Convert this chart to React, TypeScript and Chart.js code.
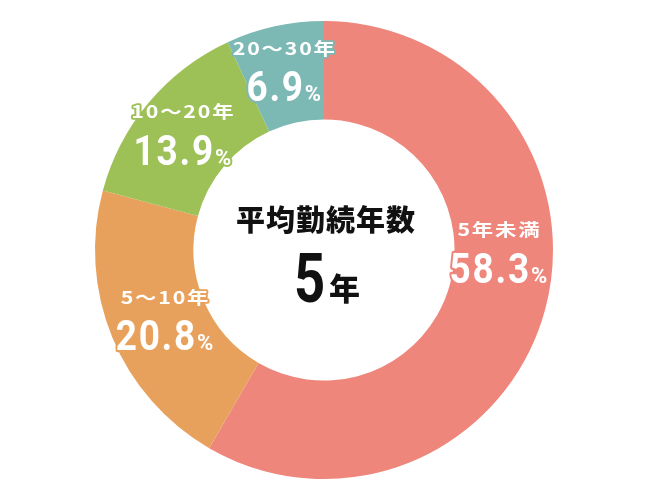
import React, { useEffect, useRef } from "react";
import { Chart, registerables } from "chart.js";

Chart.register(...registerables);

const categories = ["5年未満", "5～10年", "10～20年", "20～30年"];
const values = [58.3, 20.8, 13.9, 6.9];
const colors = ["#EE867C", "#E8A15C", "#9DC157", "#7DB9B4"];
const centerTitle = "平均勤続年数";
const centerValue = "5";
const centerUnit = "年";

// label placement nudges (angle in degrees, radius as fraction of ring middle)
const labelAngleNudge = [-15.5, 0, 0, 0];
const labelRadiusScale = [0.97, 0.96, 1.03, 1.04];

const labelPlugin = {
  id: "ringLabels",
  afterDatasetsDraw(chart: any) {
    const ctx = chart.ctx;
    const meta = chart.getDatasetMeta(0);
    meta.data.forEach((arc: any, i: number) => {
      const p = arc.getProps(["x", "y", "startAngle", "endAngle", "innerRadius", "outerRadius"], true);
      const mid = (p.startAngle + p.endAngle) / 2 + (labelAngleNudge[i] * Math.PI) / 180;
      const r = ((p.innerRadius + p.outerRadius) / 2) * labelRadiusScale[i];
      const cx = p.x + Math.cos(mid) * r;
      const cy = p.y + Math.sin(mid) * r;
      ctx.save();
      ctx.lineJoin = "round";
      ctx.strokeStyle = colors[i];
      ctx.fillStyle = "#ffffff";
      // category label (wide lettering)
      const lx = 1.22;
      ctx.save();
      ctx.translate(cx + 1, cy - 19);
      ctx.scale(lx, 1);
      ctx.textAlign = "center";
      ctx.textBaseline = "middle";
      ctx.font = "bold 17.5px 'Noto Sans CJK JP'";
      (ctx as any).letterSpacing = "1.5px";
      ctx.lineWidth = 4 / lx;
      ctx.strokeText(categories[i], 0, 0);
      ctx.fillText(categories[i], 0, 0);
      ctx.restore();
      // value
      const num = values[i].toFixed(1);
      const sx = 0.88;
      ctx.font = "bold 42px Roboto";
      (ctx as any).letterSpacing = "2px";
      const numW = ctx.measureText(num).width * sx;
      ctx.font = "bold 22px Roboto";
      (ctx as any).letterSpacing = "0px";
      const pctW = ctx.measureText("%").width;
      const total = numW + pctW;
      const x0 = cx - total / 2;
      ctx.textAlign = "left";
      ctx.textBaseline = "alphabetic";
      ctx.save();
      ctx.translate(x0, cy + 34);
      ctx.scale(sx, 1);
      ctx.font = "bold 42px Roboto";
      (ctx as any).letterSpacing = "2px";
      ctx.lineWidth = 4 / sx;
      ctx.strokeText(num, 0, 0);
      ctx.fillText(num, 0, 0);
      ctx.restore();
      ctx.font = "bold 22px Roboto";
      (ctx as any).letterSpacing = "0px";
      ctx.lineWidth = 4;
      ctx.strokeText("%", x0 + numW, cy + 34);
      ctx.fillText("%", x0 + numW, cy + 34);
      ctx.restore();
    });
    // center text
    const a = meta.data[0];
    const cx = a.x;
    const cy = a.y;
    ctx.save();
    ctx.fillStyle = "#111111";
    ctx.textAlign = "center";
    ctx.textBaseline = "middle";
    ctx.font = "900 29px 'Noto Sans CJK JP'";
    (ctx as any).letterSpacing = "1px";
    ctx.fillText(centerTitle, cx + 2, cy - 30);
    (ctx as any).letterSpacing = "0px";
    ctx.textBaseline = "alphabetic";
    ctx.textAlign = "left";
    ctx.font = "bold 68px Roboto";
    const w5 = ctx.measureText(centerValue).width * 0.8;
    ctx.font = "900 31px 'Noto Sans CJK JP'";
    const wY = ctx.measureText(centerUnit).width;
    const tot = w5 + 4 + wY;
    const sx = cx + 3 - tot / 2;
    ctx.save();
    ctx.translate(sx, cy + 52);
    ctx.scale(0.8, 1);
    ctx.font = "bold 68px Roboto";
    ctx.fillText(centerValue, 0, 0);
    ctx.restore();
    ctx.font = "900 31px 'Noto Sans CJK JP'";
    ctx.fillText(centerUnit, sx + w5 + 4, cy + 50);
    ctx.restore();
  },
};

export default function App() {
  const ref = useRef<HTMLCanvasElement>(null);
  useEffect(() => {
    document.body.style.margin = "0";
    const chart = new Chart(ref.current!, {
      type: "doughnut",
      data: {
        labels: categories,
        datasets: [
          {
            data: values,
            backgroundColor: colors,
            borderWidth: 0,
          },
        ],
      },
      options: {
        responsive: false,
        animation: false,
        cutout: "57%",
        layout: { padding: { top: 21, bottom: 21, left: 0, right: 2 } },
        plugins: {
          legend: { display: false },
          tooltip: { enabled: false },
        },
      },
      plugins: [labelPlugin],
    });
    return () => chart.destroy();
  }, []);
  return (
    <div style={{ width: 650, height: 500, background: "#fff" }}>
      <canvas ref={ref} width={650} height={500} />
    </div>
  );
}
